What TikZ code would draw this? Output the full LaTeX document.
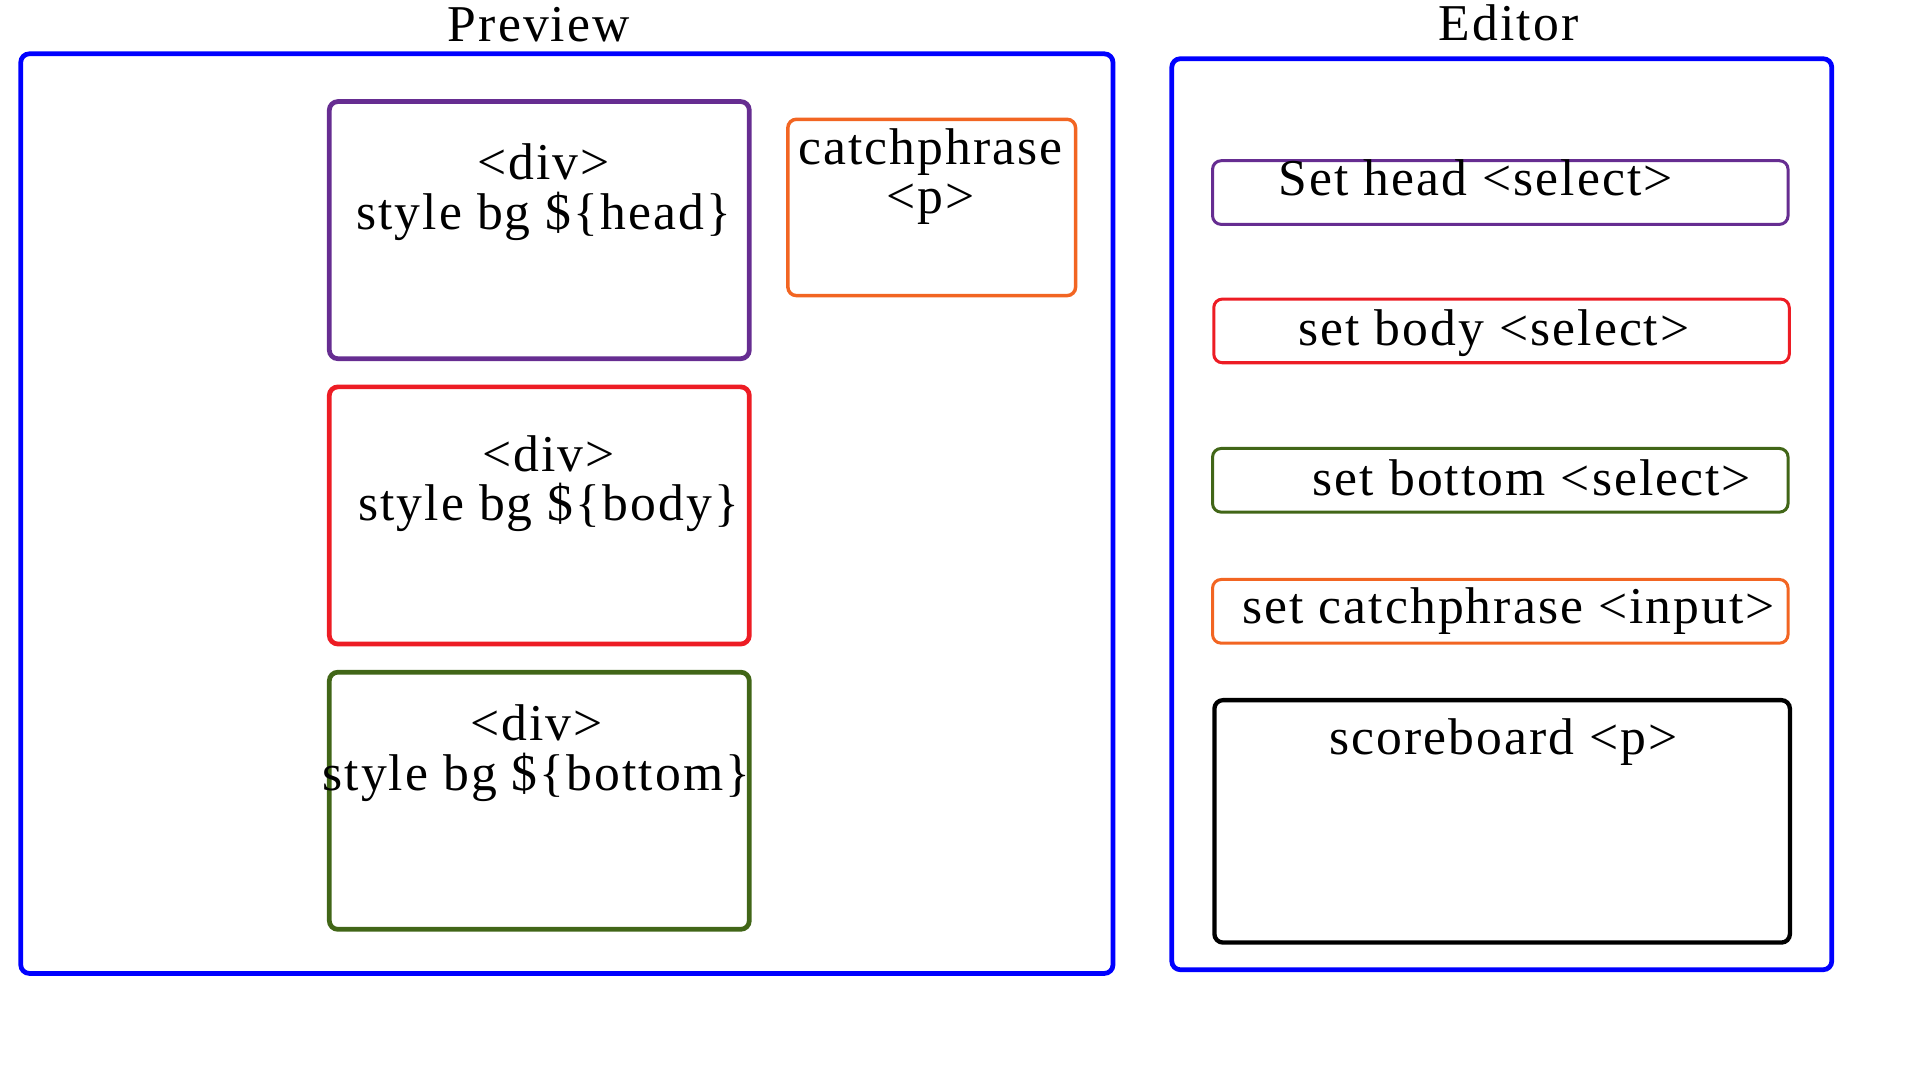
\documentclass[tikz,border=0pt]{standalone}
\usepackage{fontspec}
\setmainfont{Liberation Serif}[LetterSpace=4]
\usetikzlibrary{positioning}
\definecolor{cabeca}{HTML}{662D91}
\definecolor{corpo}{HTML}{ED1C24}
\definecolor{rodape}{HTML}{416617}
\definecolor{frase}{HTML}{F26522}

\begin{document}
\begin{tikzpicture}[
    font=\fontsize{12}{11.5}\selectfont,
    moldura/.style={draw=blue, line width=1.1pt, rounded corners=2pt, anchor=north west},
    caixa/.style={draw=#1, line width=1.1pt, rounded corners=2pt, anchor=north west,
                  minimum width=3.43cm, minimum height=2.10cm},
    campo/.style={draw=#1, line width=0.7pt, rounded corners=2pt, anchor=north west,
                  minimum width=4.70cm, minimum height=0.52cm},
    texto/.style={align=center, inner sep=0pt}]
  \useasboundingbox (0,0) rectangle (15.68,-8.82);

  % preview
  \node(preview) [moldura, minimum width=8.92cm, minimum height=7.51cm] at (0.15,-0.42) {};
  \node(tpreview) [texto] at (4.40,-0.20) {Preview};

  \node(headdiv)   [caixa=cabeca] at (2.67,-0.81) {};
  \node(bodydiv)   [caixa=corpo]  at (2.67,-3.14) {};
  \node(bottomdiv) [caixa=rodape] at (2.67,-5.47) {};
  \node(fraseP)    [caixa=frase, line width=0.8pt, minimum width=2.35cm, minimum height=1.44cm] at (6.42,-0.96) {};

  \node(theaddiv)   [texto] at (4.44,-1.57) {<div>\\style bg \$\{head\}};
  \node(tbodydiv)   [texto] at (4.48,-3.95) {<div>\\style bg \$\{body\}};
  \node(tbottomdiv) [texto] at (4.38,-6.15) {<div>\\style bg \$\{bottom\}};
  \node(tfraseP)    [texto] at (7.60,-1.44) {catchphrase\\<p>};

  % editor
  \node(editor) [moldura, minimum width=5.39cm, minimum height=7.44cm] at (9.55,-0.46) {};
  \node(teditor) [texto] at (12.32,-0.19) {Editor};

  \node(sethead)   [campo=cabeca] at (9.89,-1.30) {};
  \node(setbody)   [campo=corpo]  at (9.90,-2.43) {};
  \node(setbottom) [campo=rodape] at (9.89,-3.65) {};
  \node(setfrase)  [campo=frase]  at (9.89,-4.72) {};
  \node(placar)    [campo=black, line width=1pt, minimum height=1.98cm] at (9.90,-5.70) {};

  \node(tsethead)   [texto] at (12.05,-1.45) {Set head <select>};
  \node(tsetbody)   [texto] at (12.20,-2.72) {set body <select>};
  \node(tsetbottom) [texto] at (12.51,-3.90) {set bottom <select>};
  \node(tsetfrase)  [texto] at (12.32,-4.99) {set catchphrase <input>};
  \node(tplacar)    [texto] at (12.28,-6.06) {scoreboard <p>};
\end{tikzpicture}
\end{document}
